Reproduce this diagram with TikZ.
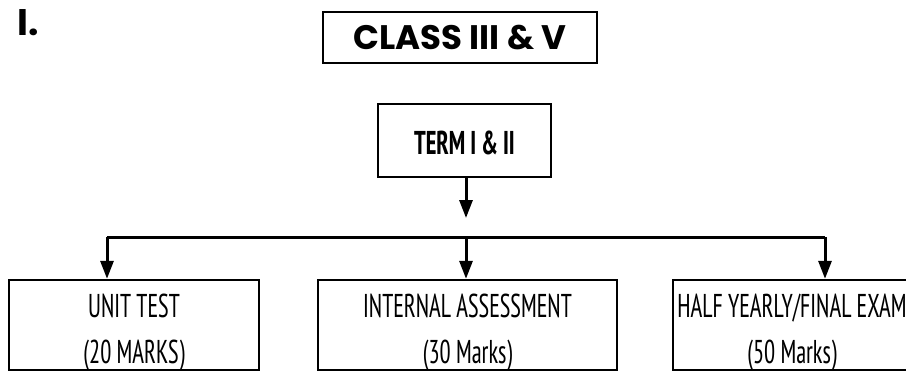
\documentclass[tikz,border=0pt]{standalone}
\usepackage{fontspec}
\IfFontExistsTF{PT Sans Narrow}
  {\setmainfont{PT Sans Narrow}[FakeStretch=0.75]}
  {\setmainfont{PT Sans}[FakeStretch=0.64]}
\newfontfamily\titlefont{Poppins}
\usepackage{tikz}
\usetikzlibrary{positioning, arrows.meta}

\begin{document}
\begin{tikzpicture}[x=0.5pt,y=-0.5pt]
        % Define styles for shapes
        \tikzstyle{box} = [draw, line width=1.2pt, inner sep=0pt]
        \tikzstyle{lbl} = [inner sep=0pt, align=center, font=\fontsize{16.5}{23}\selectfont]
        \tikzstyle{arr} = [line width=1.5pt, -{Triangle[length=9pt, width=6.5pt]}]
        \clip (0,0) rectangle (906,372);
        % Draw shapes
        \node (num) at (28,23) {\titlefont\fontseries{sb}\fontsize{18.5}{18.5}\selectfont I.};
        \node[box, minimum width=137pt, minimum height=25.5pt] (class) at (460,37.5)
            {\titlefont\bfseries\fontsize{17}{17}\selectfont CLASS III \& V};
        \node[box, minimum width=86.5pt, minimum height=36.5pt] (term) at (464.5,140.5) {};
        \node[lbl, font=\fontsize{16.5}{16.5}\bfseries] (termtxt) at ([yshift=-1pt]term.center)
            {TERM I \& II};
        \node[box, minimum width=125pt, minimum height=45pt] (unit) at (134,325) {};
        \node[lbl] (unittxt) at ([yshift=-3.5pt]unit.center) {UNIT TEST\\(20 MARKS)};
        \node[box, minimum width=149.5pt, minimum height=45pt] (internal) at (467.5,325) {};
        \node[lbl] (internaltxt) at ([yshift=-3.5pt]internal.center) {INTERNAL ASSESSMENT\\(30 Marks)};
        \node[box, minimum width=119pt, minimum height=45pt] (half) at (792,325) {};
        \node[lbl] (halftxt) at ([yshift=-3.5pt]half.center) {HALF YEARLY/FINAL EXAM\\(50 Marks)};

        % Draw arrows
        \coordinate (tip) at (466,218);
        \coordinate (left) at (107,237);
        \coordinate (mid) at (466,237);
        \coordinate (right) at (825,237);
        \draw[arr] (term.south -| tip) -- (tip);
        \draw[line width=1.5pt] (left) -- (right);
        \draw[arr] (left) -- (left |- unit.north);
        \draw[arr] (mid) -- (mid |- internal.north);
        \draw[arr] (right) -- (right |- half.north);
    \end{tikzpicture}
\end{document}
